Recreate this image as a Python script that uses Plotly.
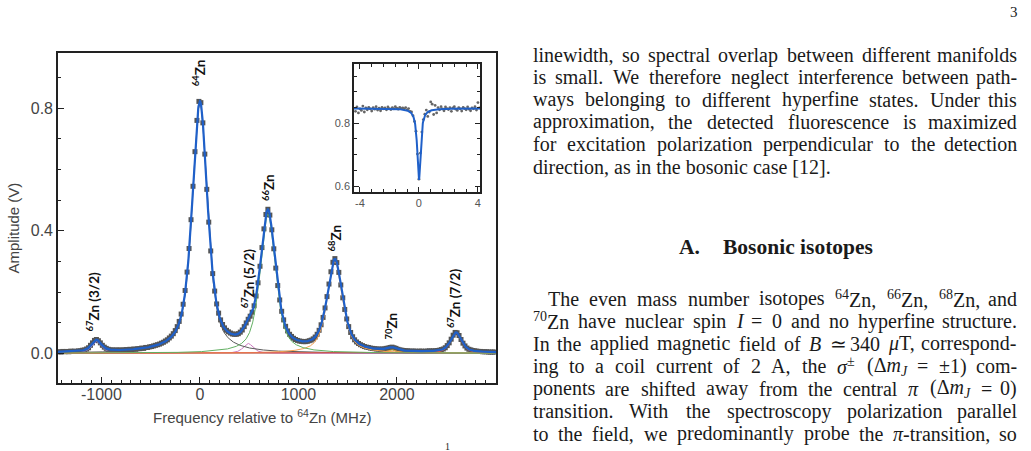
import re
import numpy as np
import plotly.graph_objects as go

# ---------------- data ----------------
data_freq = list(range(-1430, 3000, 20))   # MHz, measurement grid
data_amp = [
    .005, .004, .006, .005, .006, .005, .007, .006, .007, .006,
    .008, .008, .010, .011, .014, .018, .026, .034, .042, .045,
    .041, .034, .026, .020, .016, .013, .011, .011, .010, .011,
    .010, .011, .010, .011, .012, .011, .013, .012, .014, .013,
    .015, .015, .017, .016, .019, .019, .021, .022, .024, .026,
    .028, .030, .033, .036, .040, .044, .050, .056, .064, .074,
    .087, .104, .128, .160, .205, .265, .342, .436, .545, .658,
    .760, .822,
    .818, .752, .650, .535, .428, .334, .260, .203, .161, .131,
    .109, .094, .083, .075, .070, .066, .063, .062, .062, .064,
    .069, .076, .087, .099, .111, .121, .134, .155, .187, .230,
    .284, .345, .406, .453, .470, .451, .403, .341, .278, .221,
    .174, .137, .109, .088, .073, .062, .055, .049, .045, .042,
    .040, .039, .038, .038, .039, .041, .043, .047, .053, .062,
    .075, .093, .117, .148, .185, .226, .266, .297, .309, .296,
    .264, .223, .181, .143, .112, .087, .068, .054, .044, .037,
    .032, .028, .025, .022, .020, .019, .017, .016, .015, .014,
    .014, .013, .014, .014, .016, .017, .019, .020, .018, .016,
    .013, .011, .010, .009, .008, .008, .007, .007, .007, .007,
    .006, .007, .007, .006, .007, .007, .008, .007, .008, .008,
    .009, .010, .012, .014, .018, .025, .034, .046, .059, .068,
    .067, .058, .045, .033, .024, .017, .013, .011, .009, .008,
    .007, .006, .006, .005, .005, .005, .004, .004, .004, .004,
]

# fitted peak parameters (pseudo-Voigt components)
peak_labels = ["<sup>67</sup>Zn (3/2)", "<sup>64</sup>Zn", "<sup>67</sup>Zn (5/2)",
               "<sup>66</sup>Zn", "<sup>68</sup>Zn", "<sup>70</sup>Zn", "<sup>67</sup>Zn (7/2)"]
peak_center = [-1050, 0, 490, 690, 1370, 1950, 2600]
peak_amp = [0.038, 0.815, 0.032, 0.454, 0.299, 0.011, 0.065]
peak_fwhm = [120, 185, 120, 185, 185, 120, 130]
lorentz_fraction = 0.65
fit_baseline = 0.001

# inset data
inset_x = [round(-4.3 + 0.1 * i, 1) for i in range(85)]
inset_y = [
    .838, .852, .833, .846, .841, .855, .836, .849, .843, .851,
    .846, .839, .850, .845, .853, .842, .848, .840, .851, .846,
    .849, .843, .852, .847, .844, .850, .846, .853, .848, .845,
    .851, .847, .849, .846, .850, .843, .847, .838, .836, .824,
    .806, .775, .702, .622, .705, .772, .812, .829, .842, .822,
    .836, .868, .861, .828, .857, .833, .850, .843, .853, .846,
    .840, .852, .847, .844, .850, .838, .849, .853, .845, .841,
    .850, .846, .839, .851, .847, .843, .852, .845, .840, .849,
    .846, .853, .842, .866, .849,
]
inset_fit_offset = 0.847
inset_fit_depth = 0.228
inset_fit_fwhm = 0.27

# page text
para1 = [
    "linewidth, so spectral overlap between different manifolds",
    "is small. We therefore neglect interference between path-",
    "ways belonging to different hyperfine states. Under this",
    "approximation, the detected fluorescence is maximized",
    "for excitation polarization perpendicular to the detection",
    "direction, as in the bosonic case [12].",
]
heading_num = "<b>A.</b>"
heading_txt = "<b>Bosonic isotopes</b>"
para2 = [
    "The even mass number isotopes <sup>64</sup>Zn, <sup>66</sup>Zn, <sup>68</sup>Zn, and",
    "<sup>70</sup>Zn have nuclear spin <i>I</i> = 0 and no hyperfine structure.",
    "In the applied magnetic field of <i>B</i> \u2243 340 <i>\u03bc</i>T, correspond-",
    "ing to a coil current of 2 A, the <i>\u03c3</i><sup>\u00b1</sup> (\u0394<i>m<sub>J</sub></i> = \u00b11) com-",
    "ponents are shifted away from the central <i>\u03c0</i> (\u0394<i>m<sub>J</sub></i> = 0)",
    "transition. With the spectroscopy polarization parallel",
    "to the field, we predominantly probe the <i>\u03c0</i>-transition, so",
]

# ---------------- styles / layout ----------------
comp_colors = ["#8a7fc8", "#5a5a5a", "#cc79c0", "#62b062", "#f3a04f", "#e0a83a", "#e0574c"]
label_x = [-1080, 0, 497, 695, 1371, 1950, 2580]
label_y = [0.066, 0.866, 0.14, 0.49, 0.327, 0.037, 0.076]

W, H = 1031, 451
L, R, T, B = 58, 496, 53, 383
TEXT_L, TEXT_R = 531.5, 1018.3
SERIF_SIZE = 20


def px_x(p):
    return (p - L) / (R - L)


def px_y(p):
    return (B - p) / (B - T)


def pvoigt(x, c, a, w):
    d = (x - c) / w
    return a * (lorentz_fraction / (1 + 4 * d ** 2) +
                (1 - lorentz_fraction) * np.exp(-4 * np.log(2) * d ** 2))


# Times / Liberation Serif advance widths (1/1000 em)
TW = {' ': 250, '(': 333, ')': 333, ',': 250, '-': 333, '.': 250, '/': 278,
      ':': 278, '=': 564, '[': 333, ']': 333, '\u00b1': 564, '\u03bc': 500,
      '\u03c3': 550, '\u03c0': 550, '\u0394': 612, '\u2243': 564}
for ch in '0123456789':
    TW[ch] = 500
TW.update(dict(zip('ABCDEFGHIJKLMNOPQRSTUVWXYZ',
                   [722, 667, 667, 722, 611, 556, 722, 722, 333, 389, 722, 611, 889,
                    722, 722, 556, 722, 667, 556, 611, 722, 722, 944, 722, 722, 611])))
TW.update(dict(zip('abcdefghijklmnopqrstuvwxyz',
                   [444, 500, 444, 500, 444, 333, 500, 500, 278, 278, 500, 278, 778,
                    500, 500, 500, 500, 333, 389, 278, 500, 500, 722, 500, 500, 444])))


def text_w(s, size):
    w, scale = 0.0, 1.0
    for tok in re.split(r'(<[^>]+>)', s):
        if tok.startswith('<'):
            if tok in ('<sup>', '<sub>'):
                scale = 0.7
            elif tok in ('</sup>', '</sub>'):
                scale = 1.0
            continue
        for ch in tok:
            w += TW.get(ch, 500) * scale
    return w * size / 1000.0


xf = np.linspace(-1440, 3005, 1800)
comps = [pvoigt(xf, c, a, w) for c, a, w in zip(peak_center, peak_amp, peak_fwhm)]
total = fit_baseline + np.sum(comps, axis=0)

fig = go.Figure()
fig.add_trace(go.Scatter(x=data_freq, y=data_amp, mode="markers",
                         marker=dict(symbol="square", size=5, color="#555555",
                                     line=dict(width=0)),
                         showlegend=False, hoverinfo="skip"))
draw_order = [0, 5, 2, 1, 4, 6, 3]
for i in draw_order:
    fig.add_trace(go.Scatter(x=xf, y=comps[i], mode="lines",
                             line=dict(color=comp_colors[i], width=1), showlegend=False,
                             hoverinfo="skip"))
fig.add_trace(go.Scatter(x=xf, y=total, mode="lines",
                         line=dict(color="#1f60c9", width=2.2), showlegend=False,
                         hoverinfo="skip"))

# inset
xi = np.linspace(-4.4, 4.14, 600)
yi = inset_fit_offset - inset_fit_depth / (1 + (2 * xi / inset_fit_fwhm) ** 2)
fig.add_trace(go.Scatter(x=inset_x, y=inset_y, mode="markers", xaxis="x2", yaxis="y2",
                         marker=dict(size=2.8, color="#666666"), showlegend=False,
                         hoverinfo="skip"))
fig.add_trace(go.Scatter(x=xi, y=yi, mode="lines", xaxis="x2", yaxis="y2",
                         line=dict(color="#1f60c9", width=2), showlegend=False,
                         hoverinfo="skip"))

tickfont = dict(family="Liberation Sans, Arial", size=16, color="#444444")
fig.update_layout(
    width=W, height=H, autosize=False,
    margin=dict(l=L, r=W - R, t=T, b=H - B, pad=0),
    paper_bgcolor="white", plot_bgcolor="white",
    xaxis=dict(range=[-1440, 3005], showgrid=False, zeroline=False,
               tickmode="array", tickvals=[-1000, 0, 1000, 2000],
               ticktext=["-1000", "0", "1000", "2000"],
               ticks="inside", ticklen=6, tickwidth=1.3, tickcolor="#222",
               ticklabelstandoff=-4,
               minor=dict(dtick=100, tick0=0, ticks="inside", ticklen=3.5,
                          tickwidth=1.1, tickcolor="#222"),
               showline=True, linecolor="#222", linewidth=1.6, mirror=True,
               tickfont=tickfont),
    yaxis=dict(range=[-0.097, 0.98], showgrid=False, zeroline=False,
               tickmode="array", tickvals=[0, 0.4, 0.8], ticktext=["0.0", "0.4", "0.8"],
               ticks="inside", ticklen=6, tickwidth=1.3, tickcolor="#222",
               minor=dict(dtick=0.1, tick0=0, ticks="inside", ticklen=3.5,
                          tickwidth=1.1, tickcolor="#222"),
               showline=True, linecolor="#222", linewidth=1.6, mirror=True,
               tickfont=tickfont),
    xaxis2=dict(domain=[px_x(354), px_x(480)], anchor="y2", range=[-4.4, 4.14],
                showgrid=False, zeroline=False,
                tickmode="array", tickvals=[-4, 0, 4], ticktext=["-4", "0", "4"],
                ticks="inside", ticklen=5, tickcolor="#222", tickwidth=1.3,
                minor=dict(dtick=0.8, tick0=0, ticks="inside", ticklen=3, tickcolor="#222"),
                showline=True, linecolor="#222", linewidth=1.6, mirror="ticks",
                tickfont=dict(family="Liberation Sans, Arial", size=11, color="#555")),
    yaxis2=dict(domain=[px_y(191.7), px_y(64.3)], anchor="x2", range=[0.582, 0.988],
                showgrid=False, zeroline=False,
                tickmode="array", tickvals=[0.6, 0.8], ticktext=["0.6", "0.8"],
                ticks="inside", ticklen=5, tickcolor="#222", tickwidth=1.3,
                minor=dict(dtick=0.05, tick0=0, ticks="inside", ticklen=3, tickcolor="#222"),
                showline=True, linecolor="#222", linewidth=1.6, mirror="ticks",
                tickfont=dict(family="Liberation Sans, Arial", size=11, color="#555")),
)

ann = []
for txt, lx, ly in zip(peak_labels, label_x, label_y):
    ann.append(dict(x=lx, y=ly, xref="x", yref="y", text="<b>" + txt + "</b>",
                    textangle=-90, showarrow=False, xanchor="center", yanchor="bottom",
                    font=dict(family="Lato, Open Sans", size=13.5, color="#111")))

ann.append(dict(x=px_x(12.5), y=px_y(228), xref="paper", yref="paper",
                text="Amplitude (V)", textangle=-90, showarrow=False,
                xanchor="center", yanchor="middle",
                font=dict(family="Liberation Sans, Arial", size=15, color="#444")))
ann.append(dict(x=px_x(261.5), y=px_y(416), xref="paper", yref="paper",
                text="Frequency relative to <sup>64</sup>Zn (MHz)", showarrow=False,
                xanchor="center", yanchor="middle",
                font=dict(family="Liberation Sans, Arial", size=15, color="#444")))

serif = dict(family="Liberation Serif, Times New Roman", size=SERIF_SIZE, color="#1a1a1a")


def add_line(text, x0, yy, justify):
    if not justify:
        ann.append(dict(x=px_x(x0 - 1), y=px_y(yy), xref="paper", yref="paper", text=text,
                        showarrow=False, xanchor="left", yanchor="middle", font=serif))
        return
    words = text.split(" ")
    widths = [text_w(w, SERIF_SIZE) for w in words]
    gap = max(3.0, (TEXT_R - x0 - sum(widths)) / (len(words) - 1))
    xx = x0
    for k, (wd, ww) in enumerate(zip(words, widths)):
        if k == len(words) - 1:
            ann.append(dict(x=px_x(TEXT_R + 1), y=px_y(yy), xref="paper", yref="paper",
                            text=wd, showarrow=False, xanchor="right", yanchor="middle",
                            font=serif))
        else:
            ann.append(dict(x=px_x(xx - 1), y=px_y(yy), xref="paper", yref="paper",
                            text=wd, showarrow=False, xanchor="left", yanchor="middle",
                            font=serif))
        xx += ww + gap


para1_y = [55, 77.3, 99.6, 121.9, 144.2, 166.5]
for k, (t, yy) in enumerate(zip(para1, para1_y)):
    add_line(t, TEXT_L, yy, justify=(k < len(para1) - 1))

head_font = dict(family="Liberation Serif, Times New Roman", size=21.5, color="#1a1a1a")
ann.append(dict(x=px_x(677), y=px_y(246.7), xref="paper", yref="paper",
                text=heading_num, showarrow=False,
                xanchor="left", yanchor="middle", font=head_font))
ann.append(dict(x=px_x(721), y=px_y(246.7), xref="paper", yref="paper",
                text=heading_txt, showarrow=False,
                xanchor="left", yanchor="middle", font=head_font))

para2_y = [298.5, 321, 343.5, 366, 388.5, 411, 433.5]
para2_x = [546.7, TEXT_L, TEXT_L, TEXT_L, TEXT_L, TEXT_L, TEXT_L]
for t, xx, yy in zip(para2, para2_x, para2_y):
    add_line(t, xx, yy, justify=True)

ann.append(dict(x=px_x(1014.5), y=px_y(12), xref="paper", yref="paper", text="3",
                showarrow=False, xanchor="center", yanchor="middle",
                font=dict(family="Liberation Serif", size=15, color="#222")))
ann.append(dict(x=px_x(447.7), y=px_y(446), xref="paper", yref="paper", text="1",
                showarrow=False, xanchor="center", yanchor="middle",
                font=dict(family="Liberation Serif", size=10, color="#222")))

fig.update_layout(annotations=ann)
fig.write_html("out.html", include_plotlyjs=True, full_html=True,
               config={"displayModeBar": False})
